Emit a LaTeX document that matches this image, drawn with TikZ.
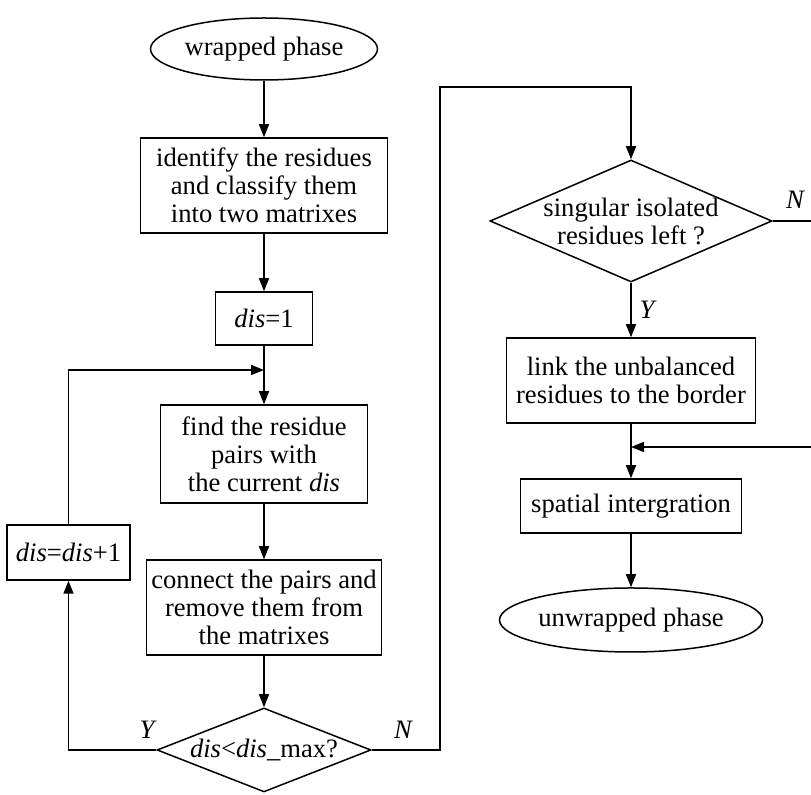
\documentclass[tikz,border=0pt]{standalone}
\usepackage{fontspec}
\setmainfont{Liberation Serif}
\usetikzlibrary{shapes.geometric,arrows.meta}
\tikzset{
  proc/.style={draw,rectangle,align=center,inner xsep=2pt,inner ysep=1pt},
  term/.style={draw,ellipse,inner sep=0pt},
  decide/.style={draw,diamond,align=center,inner xsep=0pt},
  lbl/.style={font={\fontsize{13.3}{14}\selectfont\itshape}},
}
\begin{document}
\begin{tikzpicture}[x=0.5pt,y=-0.5pt,line width=0.75pt,
    >={Triangle[length=6.5pt,width=5pt]},font={\fontsize{13.3}{14}\selectfont}]
  \useasboundingbox (0,0) rectangle (811,795);
  \clip (0,0) rectangle (811,795);
  \draw
    (264,49) node[term,minimum width=113.5pt,minimum height=31pt] (wp) {wrapped phase}
    (264,185.5) node[proc,minimum width=123.5pt,minimum height=47.5pt] (id)
      {identify the residues\\and classify them\\into two matrixes}
    (264,318.5) node[proc,minimum width=48.5pt,minimum height=26.5pt] (d1) {\textit{dis}=1}
    (264,454) node[proc,minimum width=103.5pt,minimum height=49pt] (find)
      {find the residue\\pairs with\\the current \textit{dis}}
    (68.5,552.5) node[proc,minimum width=61.5pt,minimum height=27.5pt] (dp1) {\textit{dis}=\textit{dis}+1}
    (264,607.5) node[proc,minimum width=117.5pt,minimum height=47.5pt] (conn)
      {connect the pairs and\\remove them from\\the matrixes}
    (264,750) node[decide,inner ysep=0pt,aspect=2.5,minimum width=107pt,minimum height=42pt] (dm)
      {\textit{dis}<\textit{dis}\_max?}
    (631,221) node[decide,inner ysep=-1.5pt,aspect=2.3,minimum width=141pt,minimum height=61pt] (sing)
      {singular isolated\\residues left ?}
    (631,380.5) node[proc,minimum width=124.5pt,minimum height=42.5pt] (link)
      {link the unbalanced\\residues to the border}
    (631,506) node[proc,minimum width=110.5pt,minimum height=27pt] (spat) {spatial intergration}
    (631,620) node[term,minimum width=131.5pt,minimum height=32pt] (uw) {unwrapped phase};
  \coordinate (lp) at (264,370);
  \coordinate (c1) at (440,87);
  \coordinate (c2) at (830,447);
  \draw
    (147,730) node[lbl] (y1) {Y}
    (403,730) node[lbl] (n1) {N}
    (795,200) node[lbl] (n2) {N}
    (647,310) node[lbl] (y2) {Y};
  \begin{scope}[->]
    \draw (wp) to (id);
    \draw (id) to (d1);
    \draw (d1) to (find);
    \draw (dp1.north) |- (lp);
    \draw (find) to (conn);
    \draw (conn) to (dm);
    \draw (dm.west) -| (dp1.south);
    \draw (dm.east) -| (c1) -| (sing.north);
    \draw (sing) to (link);
    \draw (sing.east) -| (c2) -- (spat.north |- c2);
    \draw (link) to (spat);
    \draw (spat) to (uw);
  \end{scope}
\end{tikzpicture}
\end{document}
